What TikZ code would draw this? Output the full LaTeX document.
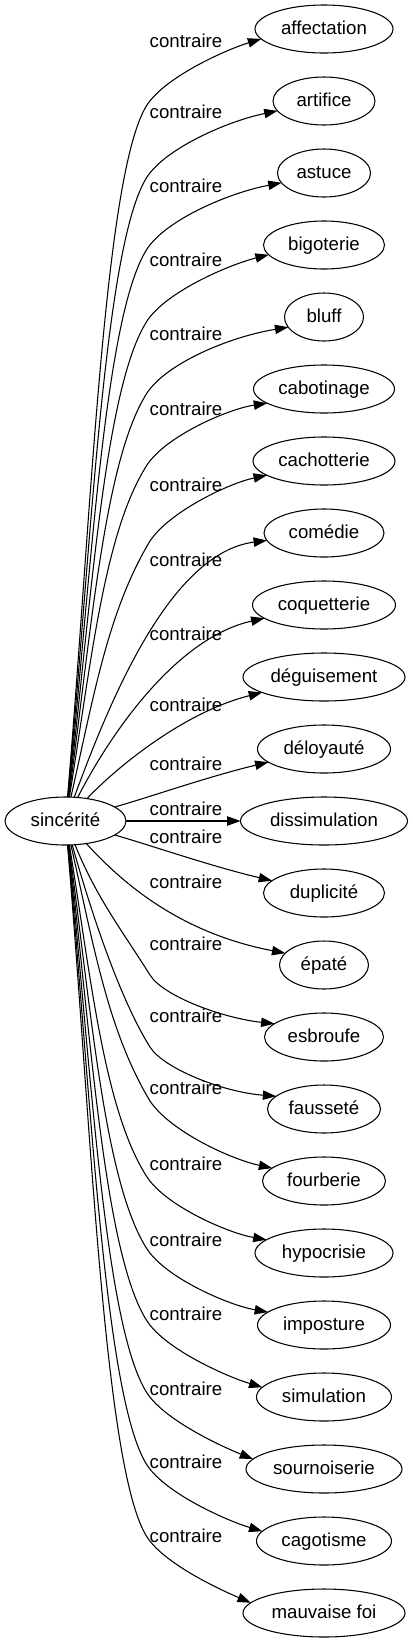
\documentclass[tikz,border=0pt]{standalone}
\usepackage{fontspec}
\setmainfont{Liberation Sans}
\usetikzlibrary{shapes.geometric, arrows.meta, positioning}

\begin{document}
\begin{tikzpicture}[
        x=0.75pt, y=-0.75pt,
        node distance=18pt,
        word/.style={ellipse, draw, inner sep=0pt, outer sep=0pt, minimum height=36pt, text height=11pt, text depth=3pt, font=\fontsize{14}{16}\selectfont, line width=0.8pt},
        lbl/.style={anchor=base, inner sep=0pt, font=\fontsize{14}{16}\selectfont},
        arrow/.style={-{Triangle[length=10pt, width=7pt]}, line width=0.8pt}
    ]
        \useasboundingbox (0,0) rectangle (413,1643);

        \node[word, minimum width=90.75pt] (sincerite) at (65.5,821) {sincérité};

        \node[word, minimum width=103.5pt] (affectation) at (324,29) {affectation};
        \node[word, minimum width=76.5pt, below=of affectation] (artifice) {artifice};
        \node[word, minimum width=69.75pt, below=of artifice] (astuce) {astuce};
        \node[word, minimum width=90.75pt, below=of astuce] (bigoterie) {bigoterie};
        \node[word, minimum width=59.25pt, below=of bigoterie] (bluff) {bluff};
        \node[word, minimum width=105.75pt, below=of bluff] (cabotinage) {cabotinage};
        \node[word, minimum width=106.5pt, below=of cabotinage] (cachotterie) {cachotterie};
        \node[word, minimum width=90pt, below=of cachotterie] (comedie) {comédie};
        \node[word, minimum width=107.25pt, below=of comedie] (coquetterie) {coquetterie};
        \node[word, minimum width=121.5pt, below=of coquetterie] (deguisement) {déguisement};
        \node[word, minimum width=99.75pt, below=of deguisement] (deloyaute) {déloyauté};
        \node[word, minimum width=125.25pt, below=of deloyaute] (dissimulation) {dissimulation};
        \node[word, minimum width=90.75pt, below=of dissimulation] (duplicite) {duplicité};
        \node[word, minimum width=66.75pt, below=of duplicite] (epate) {épaté};
        \node[word, minimum width=89.25pt, below=of epate] (esbroufe) {esbroufe};
        \node[word, minimum width=84.75pt, below=of esbroufe] (faussete) {fausseté};
        \node[word, minimum width=92.25pt, below=of faussete] (fourberie) {fourberie};
        \node[word, minimum width=103.5pt, below=of fourberie] (hypocrisie) {hypocrisie};
        \node[word, minimum width=99.75pt, below=of hypocrisie] (imposture) {imposture};
        \node[word, minimum width=101.25pt, below=of imposture] (simulation) {simulation};
        \node[word, minimum width=117pt, below=of simulation] (sournoiserie) {sournoiserie};
        \node[word, minimum width=101.25pt, below=of sournoiserie] (cagotisme) {cagotisme};
        \node[word, minimum width=121.5pt, below=of cagotisme] (mauvaisefoi) {mauvaise foi};

        % edge labels
        \node[lbl] (lab1) at (186,47) {contraire};
        \node[lbl] (lab2) at (186,118) {contraire};
        \node[lbl] (lab3) at (186,192) {contraire};
        \node[lbl] (lab4) at (186,266) {contraire};
        \node[lbl] (lab5) at (186,340) {contraire};
        \node[lbl] (lab6) at (186,415) {contraire};
        \node[lbl] (lab7) at (186,491) {contraire};
        \node[lbl] (lab8) at (186,566) {contraire};
        \node[lbl] (lab9) at (186,640) {contraire};
        \node[lbl] (lab10) at (186,711) {contraire};
        \node[lbl] (lab11) at (186,770) {contraire};
        \node[lbl] (lab12) at (186,815) {contraire};
        \node[lbl] (lab13) at (186,843) {contraire};
        \node[lbl] (lab14) at (186,888) {contraire};
        \node[lbl] (lab15) at (186,950) {contraire};
        \node[lbl] (lab16) at (186,1022) {contraire};
        \node[lbl] (lab17) at (186,1094) {contraire};
        \node[lbl] (lab18) at (186,1170) {contraire};
        \node[lbl] (lab19) at (186,1246) {contraire};
        \node[lbl] (lab20) at (186,1320) {contraire};
        \node[lbl] (lab21) at (186,1395) {contraire};
        \node[lbl] (lab22) at (186,1468) {contraire};
        \node[lbl] (lab23) at (186,1542) {contraire};

        % upper edges
        \draw[arrow] (sincerite) .. controls (91,520) and (104,172) .. (147,105) .. controls (166,76) and (228,49) .. (affectation.189);
        \draw[arrow] (sincerite) .. controls (91,549) and (104,244) .. (147,177) .. controls (166,148) and (228,121) .. (artifice.192);
        \draw[arrow] (sincerite) .. controls (91,578) and (104,316) .. (147,249) .. controls (166,220) and (228,193) .. (astuce.193);
        \draw[arrow] (sincerite) .. controls (91,607) and (104,388) .. (147,321) .. controls (166,292) and (228,265) .. (bigoterie.190);
        \draw[arrow] (sincerite) .. controls (91,635) and (104,460) .. (147,393) .. controls (166,364) and (228,337) .. (bluff.196);
        \draw[arrow] (sincerite) .. controls (91,664) and (104,532) .. (147,465) .. controls (166,436) and (228,409) .. (cabotinage.194);
        \draw[arrow] (sincerite) .. controls (94,695) and (108,611) .. (150,541) .. controls (170,511) and (230,483) .. (cachotterie.194);
        \draw[arrow] (sincerite) .. controls (110,700) and (170,553) .. (comedie);
        \draw[arrow] (sincerite) .. controls (115,725) and (180,637) .. (coquetterie);
        \draw[arrow] (sincerite) .. controls (122,762) and (188,711) .. (deguisement);
        \draw[arrow] (sincerite) .. controls (150,797) and (210,776) .. (deloyaute);
        \draw[arrow] (sincerite) -- (dissimulation);
        % lower edges
        \draw[arrow] (sincerite) .. controls (150,845) and (210,866) .. (duplicite);
        \draw[arrow] (sincerite) .. controls (118,878) and (175,932) .. (epate.163);
        \draw[arrow] (sincerite) .. controls (96,897) and (123,932) .. (150,975) .. controls (163,996) and (222,1018) .. (esbroufe.165);
        \draw[arrow] (sincerite) .. controls (95,926) and (123,1004) .. (150,1047) .. controls (163,1068) and (222,1092) .. (faussete.165);
        \draw[arrow] (sincerite) .. controls (94,947) and (108,1031) .. (150,1101) .. controls (170,1131) and (230,1159) .. (fourberie.166);
        \draw[arrow] (sincerite) .. controls (91,978) and (104,1110) .. (147,1177) .. controls (166,1206) and (228,1233) .. (hypocrisie.167);
        \draw[arrow] (sincerite) .. controls (91,1007) and (104,1182) .. (147,1249) .. controls (166,1278) and (228,1305) .. (imposture.167);
        \draw[arrow] (sincerite) .. controls (91,1035) and (104,1254) .. (147,1321) .. controls (166,1350) and (228,1377) .. (simulation.171);
        \draw[arrow] (sincerite) .. controls (91,1064) and (104,1326) .. (147,1393) .. controls (166,1422) and (228,1449) .. (sournoiserie.172);
        \draw[arrow] (sincerite) .. controls (91,1093) and (104,1398) .. (147,1465) .. controls (166,1494) and (228,1521) .. (cagotisme.171);
        \draw[arrow] (sincerite) .. controls (91,1122) and (104,1470) .. (147,1537) .. controls (166,1566) and (228,1593) .. (mauvaisefoi.172);
    \end{tikzpicture}
\end{document}
